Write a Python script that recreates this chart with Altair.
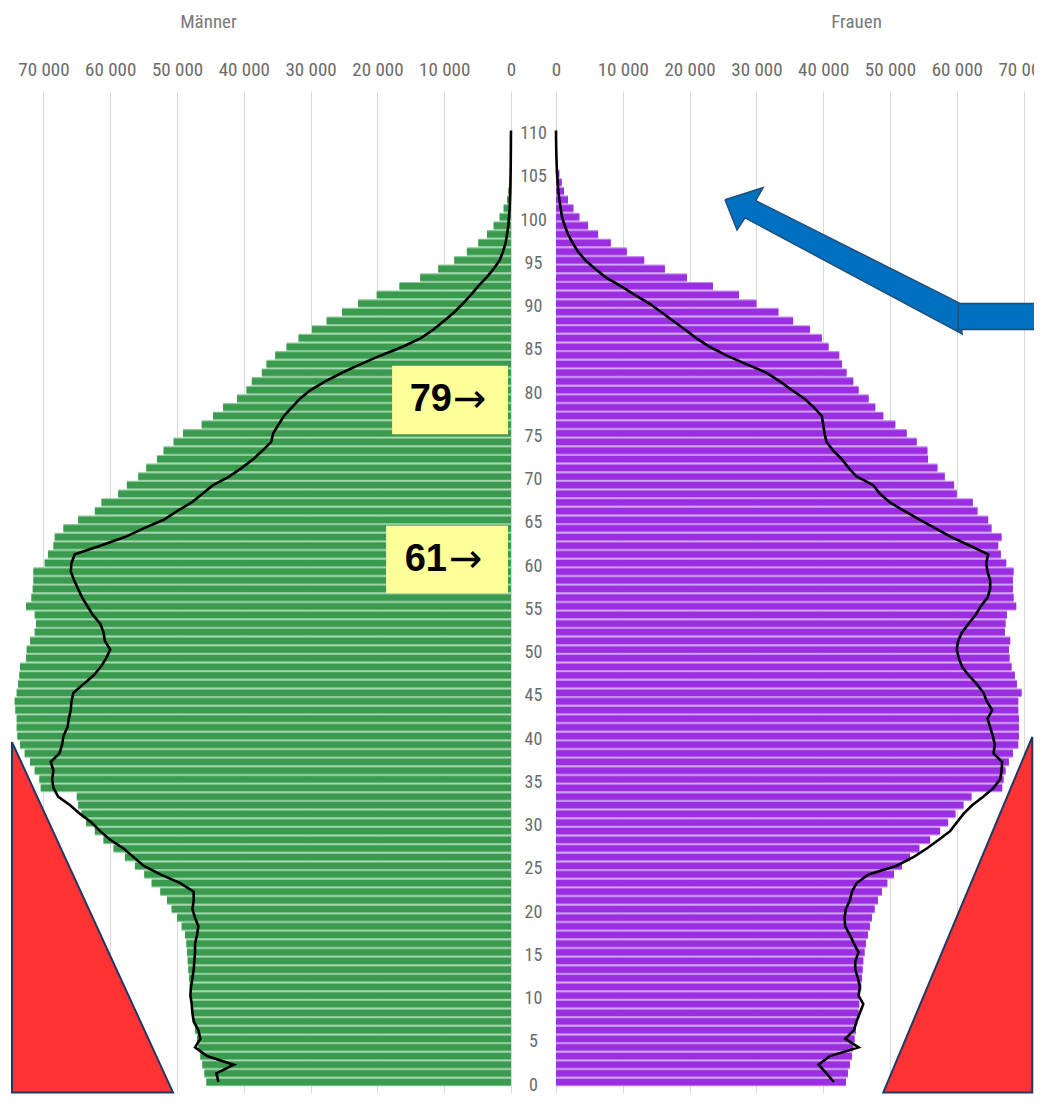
import altair as alt
import pandas as pd

# ---------------- data (persons, in thousands) ----------------
ages = list(range(0, 111))

male_bars = [
    45.6, 45.9, 46.2, 46.5, 46.8, 47.0, 47.3, 47.5, 47.7, 47.9,
    48.0, 48.1, 48.2, 48.3, 48.4, 48.5, 48.6, 48.8, 49.3, 50.0,
    50.8, 51.5, 52.5, 53.8, 54.9, 56.3, 57.8, 59.5, 61.0, 62.3,
    63.6, 64.3, 64.8, 65.0, 70.4, 70.6, 71.3, 72.0, 72.8, 73.5,
    73.9, 74.0, 74.0, 74.2, 74.3, 74.0, 73.8, 73.6, 73.5, 72.6,
    72.5, 72.0, 71.3, 71.1, 71.3, 72.6, 71.8, 71.6, 71.5, 71.5,
    69.8, 69.3, 68.5, 68.3, 67.0, 64.8, 62.3, 61.3, 58.8, 57.5,
    55.8, 54.6, 53.0, 52.0, 50.5, 49.1, 46.3, 44.6, 43.1, 41.0,
    39.6, 38.8, 37.3, 36.6, 35.3, 33.6, 31.8, 29.8, 27.6, 25.3,
    22.9, 20.1, 16.7, 13.6, 10.9, 8.5, 6.6, 4.9, 3.6, 2.6,
    1.7, 1.1, 0.6, 0.4, 0.25, 0.15, 0.08, 0.04, 0.02, 0.01, 0.0,
]

female_bars = [
    43.4, 43.7, 44.0, 44.3, 44.5, 44.7, 44.9, 45.1, 45.3, 45.4,
    45.5, 45.7, 45.8, 45.9, 46.0, 46.2, 46.4, 46.7, 47.0, 47.3,
    47.7, 48.2, 48.8, 49.6, 50.6, 51.8, 53.0, 54.4, 56.0, 57.5,
    58.7, 59.8, 61.0, 62.2, 66.8, 67.0, 67.3, 67.8, 68.4, 69.2,
    69.3, 69.3, 69.3, 69.2, 69.2, 69.7, 69.0, 68.7, 68.2, 67.9,
    67.8, 68.0, 67.2, 67.3, 67.5, 68.9, 68.5, 68.4, 68.4, 68.5,
    67.4, 66.6, 66.2, 66.7, 65.2, 64.7, 63.1, 62.4, 60.0, 59.6,
    58.2, 57.1, 55.7, 55.6, 54.0, 52.5, 50.8, 49.0, 47.8, 46.8,
    45.3, 44.5, 43.5, 42.8, 42.4, 40.8, 39.8, 38.0, 35.5, 33.3,
    30.0, 27.4, 23.5, 19.6, 16.3, 13.2, 10.6, 8.2, 6.3, 4.8,
    3.5, 2.6, 1.8, 1.2, 0.85, 0.5, 0.3, 0.15, 0.08, 0.04, 0.02,
]

male_line = [
    43.8, 44.1, 41.5, 45.5, 47.3, 46.5, 46.8, 47.5, 47.7, 47.8,
    48.0, 47.9, 47.7, 47.5, 47.4, 47.3, 47.3, 47.0, 46.8, 47.3,
    47.7, 47.5, 47.5, 49.5, 52.5, 55.0, 56.5, 58.0, 60.0, 61.5,
    62.8, 64.5, 66.0, 67.8, 68.5, 68.7, 68.5, 68.9, 67.6, 67.2,
    67.0, 66.4, 66.2, 65.9, 65.8, 65.5, 64.0, 62.5, 61.4, 60.6,
    60.0, 60.8, 61.0, 61.5, 62.6, 63.4, 64.2, 64.8, 65.4, 65.9,
    65.8, 65.3, 61.5, 57.8, 55.0, 52.0, 50.0, 47.8, 46.2, 44.6,
    42.2, 40.3, 38.6, 37.2, 35.9, 35.6, 34.8, 34.0, 32.8, 31.6,
    30.0, 27.8, 25.3, 22.5, 19.5, 16.2, 13.5, 11.6, 10.0, 8.5,
    7.2, 6.0, 4.9, 3.7, 2.6, 1.7, 1.2, 0.8, 0.6, 0.4,
    0.3, 0.2, 0.15, 0.1, 0.08, 0.06, 0.04, 0.03, 0.02, 0.01, 0.0,
]

female_line = [
    41.6, 40.5, 39.3, 41.0, 45.3, 43.3, 44.6, 45.0, 45.5, 46.0,
    45.3, 45.5, 45.2, 44.8, 44.8, 45.3, 44.6, 44.0, 43.3, 43.2,
    43.4, 44.0, 44.3, 45.0, 46.8, 51.0, 53.5, 55.5, 57.3, 59.0,
    60.0, 61.0, 62.3, 64.0, 65.5, 66.5, 66.7, 66.8, 65.5, 65.7,
    65.4, 65.0, 64.6, 65.3, 64.5, 64.0, 63.0, 61.8, 60.8, 60.3,
    60.0, 60.2, 60.8, 61.8, 62.8, 63.6, 64.6, 65.0, 65.0, 64.6,
    64.4, 64.7, 62.0, 59.2, 56.8, 54.5, 52.2, 50.0, 48.5, 47.5,
    45.0, 43.8, 42.8, 41.5, 40.5, 40.2, 40.0, 39.8, 38.6, 37.2,
    35.3, 33.5, 31.5, 28.5, 25.5, 23.0, 21.0, 19.3, 17.5, 15.8,
    14.0, 11.8, 9.7, 7.5, 5.9, 4.4, 3.3, 2.5, 1.8, 1.3,
    0.9, 0.7, 0.5, 0.35, 0.25, 0.15, 0.1, 0.06, 0.03, 0.01, 0.0,
]

x_ticks = [0, 10000, 20000, 30000, 40000, 50000, 60000, 70000]
age_ticks = list(range(0, 111, 5))

# annotation boxes (age markers)
box_labels = ["79", "61"]
box_ages = [78.9, 60.3]

# ---------------- styling ----------------
NARROW = "Liberation Sans Narrow, Roboto Condensed, DejaVu Sans Condensed, sans-serif"
DG, LG = "#3a9a4d", "#8bc99a"
DP, LP = "#9b2ee1", "#c58cef"
RED, NAVY = "#ff3333", "#203864"
BLUE, BLUE_EDGE = "#0070c0", "#1f4e79"
YELLOW = "#ffff99"
GRID = "#d9d9d9"

H = 1002
WL, WR = 503, 478
YDOM = [-1.27, 114.57]
ys = alt.Scale(domain=YDOM, nice=False, zero=False)
XMAX_L, XMAX_R = 75300, 71560
xs_l = alt.Scale(domain=[0, XMAX_L], reverse=True, nice=False, zero=False)
xs_r = alt.Scale(domain=[0, XMAX_R], nice=False, zero=False)

label_expr = "replace(format(datum.value, ','), ',', ' ')"


def top_axis(title, tx):
    return alt.Axis(
        orient="top", values=x_ticks, labelExpr=label_expr, grid=True,
        gridColor=GRID, gridWidth=1, domain=False, ticks=False, tickSize=0,
        labelFlush=False, labelPadding=12, labelFont=NARROW, labelFontSize=19,
        labelColor="#6b6b6b",
        title=title, titleX=tx, titleY=-70, titleBaseline="middle",
        titleAlign="center", titleFont=NARROW, titleFontSize=19,
        titleFontWeight="normal", titleColor="#7a7a7a",
    )


age_axis = alt.Axis(
    orient="right", values=age_ticks, grid=False, domain=False, ticks=False,
    tickSize=0, labelAlign="center", labelPadding=22, labelOffset=3,
    labelFont=NARROW, labelFontSize=18, labelColor="#6b6b6b", title=None,
)


class Panel:
    def __init__(self, xs, ax_x, ax_y):
        self.xs, self.ax_x, self.ax_y = xs, ax_x, ax_y

    def X(self, f):
        return alt.X(f, scale=self.xs, axis=self.ax_x)

    def Y(self, f):
        return alt.Y(f, scale=ys, axis=self.ax_y)


def pyramid_df(bars, line):
    return pd.DataFrame({
        "age": ages,
        "bar": [v * 1000 for v in bars],
        "line": [v * 1000 for v in line],
    })


def panel_layers(df, p, light, dark):
    base = alt.Chart(df).transform_calculate(
        zero="0", lo="datum.age - 0.5", hi="datum.age + 0.5",
        dlo="datum.age - 0.36", dhi="datum.age + 0.36",
    )
    l1 = base.mark_rect(color=light).encode(
        x=p.X("zero:Q"), x2="bar:Q", y=p.Y("lo:Q"), y2="hi:Q")
    l2 = base.mark_rect(color=dark).encode(
        x=p.X("zero:Q"), x2="bar:Q", y=p.Y("dlo:Q"), y2="dhi:Q")
    l3 = base.mark_line(color="black", strokeWidth=2.6).encode(
        x=p.X("line:Q"), y=p.Y("age:Q"), order="age:Q")
    return [l1, l2, l3]


PL = Panel(xs_l, top_axis("Männer", 200), age_axis)
PR = Panel(xs_r, top_axis("Frauen", 300), None)

dm = pyramid_df(male_bars, male_line)
dw = pyramid_df(female_bars, female_line)

left_layers = panel_layers(dm, PL, LG, DG)
right_layers = panel_layers(dw, PR, LP, DP)

# red triangles
tri_l = pd.DataFrame({"age": [39.3, -1.2], "xa": [74700, 74700], "xb": [74700, 50600]})
tri_r = pd.DataFrame({"age": [39.9, -1.2], "xa": [71300, 71300], "xb": [71300, 49000]})
left_layers.append(
    alt.Chart(tri_l).mark_area(orient="horizontal", fill=RED, stroke=NAVY, strokeWidth=2).encode(
        y=PL.Y("age:Q"), x=PL.X("xa:Q"), x2="xb:Q")
)
right_layers.append(
    alt.Chart(tri_r).mark_area(orient="horizontal", fill=RED, stroke=NAVY, strokeWidth=2).encode(
        y=PR.Y("age:Q"), x=PR.X("xa:Q"), x2="xb:Q")
)

# yellow boxes with labels
boxes = pd.DataFrame({
    "label": box_labels, "age": box_ages,
    "x1": [17800, 18700], "x2": [450, 450],
    "y1": [74.9, 56.5], "y2": [82.8, 64.3],
    "xt": [8830, 9580], "xa": [8680, 9280],
})
left_layers.append(
    alt.Chart(boxes).mark_rect(fill=YELLOW).encode(
        x=PL.X("x1:Q"), x2="x2:Q", y=PL.Y("y1:Q"), y2="y2:Q")
)
left_layers.append(
    alt.Chart(boxes).mark_text(font="Liberation Sans", fontWeight="bold", fontSize=38,
                               align="right", baseline="middle", color="black").encode(
        x=PL.X("xt:Q"), y=PL.Y("age:Q"), text="label:N")
)
left_layers.append(
    alt.Chart(boxes).mark_text(font="DejaVu Sans", fontSize=40, align="left",
                               baseline="middle", color="black", text="→").encode(
        x=PL.X("xa:Q"), y=PL.Y("age:Q"))
)

# blue block arrow (diagonal part + horizontal part)
arrow = pd.DataFrame({
    "i": list(range(8)),
    "xv": [25300, 31000, 29900, 60300, 60800, 28300, 27100, 25300],
    "age": [102.0, 103.4, 101.9, 90.1, 86.5, 99.9, 98.5, 102.0],
})
right_layers.append(
    alt.Chart(arrow).mark_line(fill=BLUE, stroke=BLUE_EDGE, strokeWidth=1.5, clip=True).encode(
        x=PR.X("xv:Q"), y=PR.Y("age:Q"), order="i:Q")
)
arrow_bar = pd.DataFrame({"x1": [60200], "x2": [74000], "y1": [87.0], "y2": [90.0]})
right_layers.append(
    alt.Chart(arrow_bar).mark_rect(fill=BLUE, stroke=BLUE_EDGE, strokeWidth=1.5, clip=True).encode(
        x=PR.X("x1:Q"), x2="x2:Q", y=PR.Y("y1:Q"), y2="y2:Q")
)

# invisible white block just past the right edge: fixes the right extent of the
# drawing so the page width can be set exactly (the cut "70 000" label as in the original)
EXT = 75000
ext = pd.DataFrame({"x1": [72500], "x2": [EXT], "y1": [50.0], "y2": [51.0]})
right_layers.append(
    alt.Chart(ext).mark_rect(fill="white", clip=False).encode(
        x=PR.X("x1:Q"), x2="x2:Q", y=PR.Y("y1:Q"), y2="y2:Q")
)

left = alt.layer(*left_layers).properties(width=WL, height=H)
right = alt.layer(*right_layers).properties(width=WR, height=H)

SPACING = 45
content_right = WL + SPACING + EXT / XMAX_R * WR
pad_right = int(round((WL + SPACING + WR) - content_right))

chart = alt.hconcat(left, right, spacing=SPACING, bounds="flush").properties(
    padding={"left": 0, "top": 4, "right": pad_right, "bottom": 0}
).configure_view(stroke=None)

chart.save("out.html", embed_options={"renderer": "svg", "actions": False})
